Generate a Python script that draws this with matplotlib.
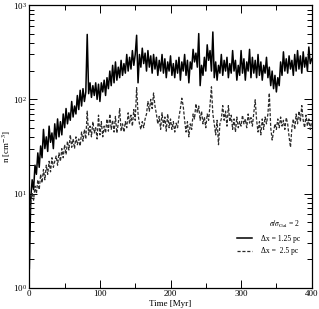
import numpy as np
import matplotlib
matplotlib.use("Agg")
import matplotlib.pyplot as plt
from matplotlib.ticker import MultipleLocator, LogLocator, LogFormatterMathtext, NullFormatter

plt.rcParams["font.family"] = ["Liberation Serif", "DejaVu Serif"]
plt.rcParams["mathtext.fontset"] = "stix"

# sample spacing of both runs [Myr]
DT = 2.0

# dx = 1.25 pc run, n [cm^-3] every 2 Myr from t = 0
n_fine = [
    1.6, 9, 14, 11, 20, 16, 27, 19, 32, 24,
    48, 30, 40, 28, 52, 35, 44, 30, 55, 38,
    62, 40, 58, 42, 70, 50, 80, 55, 72, 60,
    95, 65, 85, 70, 110, 78, 125, 85, 130, 95,
    120, 490, 115, 150, 105, 140, 110, 150, 100, 145,
    95, 150, 120, 160, 110, 170, 130, 200, 140, 230,
    150, 250, 160, 220, 170, 260, 180, 240, 190, 300,
    200, 280, 210, 330, 230, 300, 480, 150, 300, 220,
    350, 240, 310, 200, 330, 220, 290, 190, 300, 210,
    280, 180, 260, 200, 300, 190, 270, 170, 250, 200,
    290, 180, 240, 170, 260, 190, 280, 160, 250, 200,
    300, 180, 260, 150, 250, 210, 340, 250, 310, 220,
    500, 140, 230, 180, 280, 200, 380, 260, 330, 200,
    520, 170, 250, 160, 230, 190, 300, 180, 260, 200,
    280, 170, 240, 190, 330, 200, 260, 160, 230, 180,
    330, 190, 270, 160, 250, 200, 340, 170, 280, 190,
    260, 170, 300, 180, 250, 160, 230, 190, 280, 170,
    220, 140, 200, 130, 180, 120, 170, 140, 250, 180,
    320, 200, 270, 190, 290, 210, 260, 180, 300, 200,
    330, 210, 290, 190, 320, 220, 280, 200, 360, 240,
    270,
]

# dx = 2.5 pc run
n_coarse = [
    5.5, 8, 10, 8.5, 12, 10, 14, 11, 16, 13,
    18, 14, 20, 16, 22, 17, 24, 19, 22, 25,
    20, 27, 22, 30, 24, 33, 26, 36, 29, 42,
    31, 38, 30, 40, 33, 38, 32, 45, 36, 48,
    38, 75, 42, 52, 40, 58, 44, 50, 38, 68,
    42, 58, 40, 52, 44, 62, 46, 70, 48, 60,
    45, 66, 44, 56, 80, 46, 55, 45, 58, 50,
    72, 55, 68, 52, 78, 60, 133, 70, 55, 48,
    58, 50, 62, 70, 95, 75, 100, 80, 117, 85,
    70, 55, 66, 48, 72, 52, 65, 46, 70, 50,
    62, 48, 58, 45, 56, 50, 65, 80, 103, 85,
    60, 45, 58, 40, 55, 48, 70, 62, 90, 72,
    85, 60, 75, 55, 65, 50, 70, 60, 88, 136,
    70, 55, 42, 60, 33, 55, 62, 86, 60, 75,
    52, 86, 58, 68, 48, 62, 45, 65, 50, 58,
    52, 68, 55, 62, 50, 70, 56, 64, 52, 72,
    99, 60, 45, 58, 42, 62, 48, 65, 55, 70,
    117, 50, 37, 45, 55, 48, 62, 50, 65, 52,
    60, 48, 64, 55, 40, 31, 50, 62, 48, 70,
    55, 75, 58, 86, 60, 50, 68, 52, 62, 48,
    58,
]

legend_title = r"$\sigma/\sigma_{\rm Gal}$ = 2"
labels = ["Δx = 1.25 pc", "Δx =  2.5 pc"]

t_fine = np.arange(len(n_fine)) * DT
t_coarse = np.arange(len(n_coarse)) * DT

fig = plt.figure(figsize=(3.19, 3.09), dpi=100)
ax = fig.add_axes([0.092, 0.069, 0.885, 0.914])

ax.plot(t_fine, n_fine, color="black", lw=1.1, label=labels[0])
ax.plot(t_coarse, n_coarse, color="#2a2a2a", lw=0.9, dashes=(2.5, 1.4),
        label=labels[1])

ax.set_yscale("log")
ax.set_xlim(0, 400)
ax.set_ylim(1, 1000)

ax.xaxis.set_major_locator(MultipleLocator(100))
ax.xaxis.set_minor_locator(MultipleLocator(50))
ax.yaxis.set_major_locator(LogLocator(base=10, numticks=10))
ax.yaxis.set_minor_locator(LogLocator(base=10, subs=np.arange(2, 10), numticks=20))
ax.yaxis.set_major_formatter(LogFormatterMathtext())
ax.yaxis.set_minor_formatter(NullFormatter())

ax.tick_params(which="both", direction="in", top=True, right=True,
               labelsize=6.5, width=0.7, pad=2)
ax.tick_params(which="major", length=6)
ax.tick_params(which="minor", length=3.5)
for s in ax.spines.values():
    s.set_linewidth(0.9)

ax.set_xlabel("Time [Myr]", fontsize=6.5, labelpad=1)
ax.set_ylabel(r"n [cm$^{-3}$]", fontsize=6.5, labelpad=0)

leg = ax.legend(title=legend_title, loc="lower right",
                bbox_to_anchor=(0.985, 0.09), frameon=False, fontsize=5.5,
                title_fontsize=5.5, handlelength=2.0, handletextpad=1.2,
                labelspacing=0.6, alignment="right")

fig.savefig("out.png", dpi=100)
